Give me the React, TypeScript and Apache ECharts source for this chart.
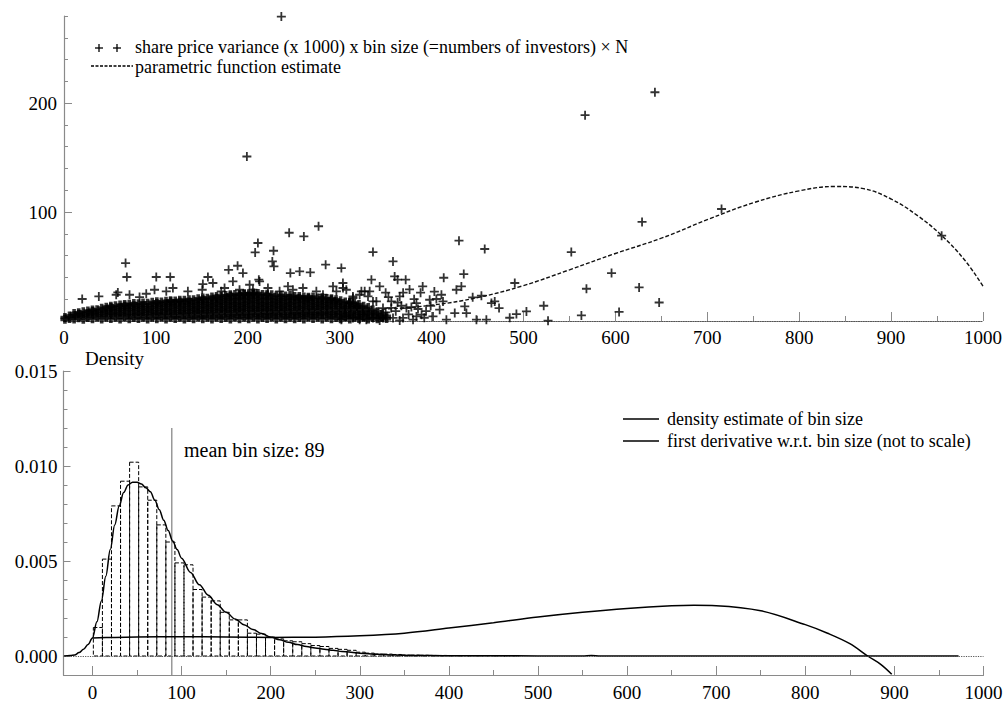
import React, { useEffect, useRef } from "react";
import * as echarts from "echarts";

const FONT = "'Liberation Serif', 'Times New Roman', 'DejaVu Serif', serif";

// ---------- top panel data ----------
// dense cloud near the origin: [x, [y values]]
const blobColumns: [number, number[]][] = [
  [1, [1.5, 3.2]],
  [6, [2.4, 4.6]],
  [11, [1.8, 4.9, 6.8]],
  [16, [2.9, 6.2, 7.6]],
  [21, [1.7, 5.3, 8.4]],
  [26, [3.3, 6.8, 9.2]],
  [31, [2.1, 5.6, 8.7, 10.1]],
  [36, [3.6, 7.1, 10.4]],
  [41, [1.9, 5.4, 9.0, 11.8]],
  [46, [3.4, 7.2, 10.6, 12.7]],
  [51, [2.2, 5.7, 9.1, 12.3, 13.6]],
  [56, [3.5, 6.9, 10.3, 13.9]],
  [61, [1.8, 5.5, 8.8, 12.4, 14.6]],
  [66, [3.6, 7.1, 10.6, 13.8, 15.2]],
  [71, [2.0, 5.4, 9.2, 12.6, 15.4]],
  [76, [3.3, 6.9, 10.4, 14.1, 16.0]],
  [81, [2.2, 5.6, 8.9, 12.5, 15.8]],
  [86, [3.5, 7.0, 10.7, 14.2, 16.6]],
  [91, [1.9, 5.3, 9.1, 12.4, 16.3]],
  [96, [3.4, 7.2, 10.5, 13.9, 17.1]],
  [101, [2.1, 5.6, 8.8, 12.6, 16.0, 17.6]],
  [106, [3.6, 6.8, 10.6, 14.2, 17.4]],
  [111, [1.8, 5.5, 9.2, 12.3, 15.9, 18.1]],
  [116, [3.4, 7.1, 10.4, 14.0, 17.6, 18.6]],
  [121, [2.2, 5.4, 9.0, 12.7, 16.1, 18.4]],
  [126, [3.5, 7.0, 10.6, 13.8, 17.5, 19.1]],
  [131, [1.9, 5.7, 8.9, 12.5, 16.2, 19.0]],
  [136, [3.3, 6.9, 10.5, 14.1, 17.4, 19.6]],
  [141, [2.0, 5.5, 9.1, 12.4, 15.9, 19.4]],
  [146, [3.6, 7.2, 10.4, 13.9, 17.6, 20.4]],
  [151, [2.1, 5.4, 8.8, 12.6, 16.1, 19.5, 21.1]],
  [156, [3.4, 7.0, 10.7, 14.0, 17.5, 21.0]],
  [161, [1.8, 5.6, 9.0, 12.5, 15.8, 19.6, 22.0]],
  [166, [3.5, 6.9, 10.5, 14.2, 17.4, 20.9, 22.6]],
  [171, [2.2, 5.5, 9.2, 12.4, 16.0, 19.4, 23.0]],
  [176, [3.3, 7.1, 10.4, 13.9, 17.6, 21.1, 23.4]],
  [181, [1.9, 5.4, 8.9, 12.6, 16.1, 19.5, 22.9, 24.1]],
  [186, [3.6, 7.0, 10.6, 14.1, 17.5, 20.8, 24.4]],
  [191, [2.0, 5.7, 9.1, 12.3, 15.9, 19.6, 23.1, 24.6]],
  [196, [3.4, 6.8, 10.5, 14.0, 17.4, 21.0, 24.5, 25.1]],
  [201, [2.1, 5.5, 9.0, 12.6, 16.2, 19.4, 22.9, 25.0]],
  [206, [3.5, 7.1, 10.4, 13.8, 17.6, 21.1, 24.6, 25.6]],
  [211, [1.8, 5.4, 8.8, 12.5, 16.0, 19.5, 23.0, 25.2]],
  [216, [3.3, 6.9, 10.6, 14.1, 17.5, 20.9, 24.4]],
  [221, [2.2, 5.6, 9.1, 12.4, 15.9, 19.6, 23.1, 24.5]],
  [226, [3.6, 7.0, 10.5, 14.0, 17.4, 21.0, 24.0]],
  [231, [1.9, 5.5, 8.9, 12.6, 16.1, 19.4, 23.0]],
  [236, [3.4, 7.2, 10.4, 13.9, 17.6, 21.1, 23.6]],
  [241, [2.0, 5.3, 9.2, 12.5, 15.8, 19.5, 22.9]],
  [246, [3.5, 6.9, 10.6, 14.2, 17.5, 20.9, 23.4]],
  [251, [2.1, 5.6, 9.0, 12.4, 16.0, 19.6, 22.6]],
  [256, [3.3, 7.0, 10.5, 13.8, 17.4, 21.0, 22.4]],
  [261, [1.8, 5.4, 8.8, 12.6, 16.2, 19.4, 22.1]],
  [266, [3.6, 7.1, 10.4, 14.1, 17.6, 20.8, 21.9]],
  [271, [2.2, 5.5, 9.1, 12.3, 15.9, 19.5, 22.0]],
  [276, [3.4, 6.8, 10.6, 14.0, 17.5, 21.1]],
  [281, [1.9, 5.7, 9.0, 12.5, 16.1, 19.6, 21.4]],
  [286, [3.5, 7.0, 10.5, 13.9, 17.4, 20.6]],
  [291, [2.0, 5.4, 8.9, 12.6, 15.8, 19.4, 20.4]],
  [296, [3.3, 7.1, 10.4, 14.2, 17.6, 19.5]],
  [301, [2.1, 5.6, 9.2, 12.4, 16.0, 18.6]],
  [306, [3.6, 6.9, 10.6, 13.8, 17.4]],
  [311, [1.8, 5.5, 8.8, 12.5, 16.1, 17.0]],
  [316, [3.4, 7.0, 10.5, 14.1, 16.4]],
  [321, [2.2, 5.4, 9.1, 12.3, 15.1]],
  [326, [3.5, 7.2, 10.4, 13.6]],
  [331, [1.9, 5.6, 8.9, 12.4]],
  [336, [3.3, 6.9, 10.1]],
  [341, [2.0, 5.5, 8.4]],
  [346, [3.1, 6.1]],
  [351, [2.2, 4.4]],
];

// scattered points outside the dense cloud
const sparsePoints: [number, number][] = [
  [236.5, 279.5], [199, 151], [567, 189], [643, 210], [629, 91], [715.5, 102.8], [955, 78.3], [552, 63.3],
  [211, 71.6], [208, 63], [228, 64.5], [245, 81], [261, 77.6], [277, 87],
  [67, 53.2], [68.4, 40.4], [19.8, 20.2], [37.9, 22.6], [58.6, 26.2], [100.4, 40.4], [115.6, 40.4],
  [156.6, 40.4], [151.1, 33.9], [179.1, 47], [188.9, 50.7], [194.7, 44], [183.8, 36.3], [226.7, 54.7],
  [228.4, 50.1], [246.3, 44], [256.4, 45.5], [268, 44.6], [284.7, 51.7], [301.8, 48.6], [303.5, 34.9],
  [336.2, 63.3], [334.5, 37.9], [212, 37.9],
  [56.8, 24.1], [71.3, 24.1], [82.2, 22], [89.5, 25], [98.5, 28.7], [111.3, 27.2], [118.5, 30.3],
  [134.8, 27.2], [150.4, 28.7], [162, 34.9], [171.1, 27.2], [174.7, 30.3], [191, 28.7], [202, 33.3],
  [205.6, 28.7], [212.8, 36.3], [221.9, 30.3], [234.6, 27.2], [243.7, 31.7], [249.1, 28.7], [260, 30.3],
  [274.6, 27.2], [281.8, 24.1], [292.7, 31.7], [296.4, 27.2], [307.2, 28.7], [314.4, 21.1], [323.6, 27.2],
  [330.8, 22.6], [336.2, 18],
  [303.6, 30.3], [314.4, 22.6], [321.7, 24.1], [327.2, 27.2], [332.6, 27.2], [343.5, 31.7], [339.9, 18],
  [347.1, 11.9], [356.2, 18], [365.3, 22.6], [367.1, 14], [372.6, 11.9], [378, 12.8], [383.5, 16.5],
  [385.2, 11], [397.9, 19.5], [405.2, 20.2], [410.7, 24.1], [412.4, 18], [408.8, 10.4], [389.1, 5.8],
  [383.5, 4.2], [368.9, 2.8], [358, 2.8], [347.1, 2.8], [336.2, 2.8], [329, 1.2], [321.7, 1.2],
  [314.4, 2.8], [307.2, 4.2], [401.5, 4.2], [416.1, 1.2], [425.2, 7.3], [436.1, 13.4], [437.9, 7.3],
  [448.8, 1.2], [459.6, 1.2], [365.3, 0.5], [343.5, 0.5], [379.8, 1.2], [325.3, 5.8], [318.1, 13.4],
  [310.8, 16.5], [305.4, 10.4], [301.8, 1.2],
  [350, 8], [353, 22], [361, 9], [369, 26], [375, 6], [381, 20], [388, 26], [394, 9], [399, 14],
  [403, 27], [350, 26], [356, 12], [363, 17], [376, 29], [392, 3],
  [358, 54.7], [359.8, 40.9], [363, 37.9], [371.8, 37.9], [390.3, 31.7], [413.2, 39.7], [429.8, 73.7],
  [435, 43.1], [432.4, 31.7], [427, 28.7], [457.8, 66.1], [444.7, 21.7], [454.2, 23.2], [465.1, 16.5],
  [468.7, 18], [473.4, 11.9], [490.5, 34.9], [485, 3], [492.3, 6.4], [503.2, 8.8], [522, 14],
  [526.7, 0.3], [563, 5.1], [568.5, 29.6], [595.8, 44], [604, 8.3], [625.8, 30.8], [647.6, 17],
];

const paramX = [0, 50, 100, 150, 200, 250, 300, 350, 400, 450, 500, 550, 600, 650, 700, 750, 800, 840, 870, 900, 930, 955, 980, 1000];
const paramY = [1.5, 3, 4.5, 6, 7.5, 8.8, 10, 11, 14.5, 21.5, 32.5, 47, 62, 76, 93, 108.5, 119.5, 123.5, 121.5, 112, 96, 78.5, 56, 32];

const topYLabelValues = [100, 200];

// ---------- bottom panel data (density values in units of 1e-3) ----------
const binStart = 1;
const binWidth = 10.17;
const histHeights = [1.5, 5.1, 7.9, 9.2, 10.2, 8.9, 8.2, 6.9, 6.0, 4.9, 4.8, 3.5, 3.1, 2.9, 2.3, 1.9, 1.9, 1.2, 1.15, 1.0,
  0.9, 0.8, 0.75, 0.65, 0.55, 0.5, 0.4, 0.35, 0.3, 0.2, 0.15, 0.1, 0.1, 0.08, 0.05, 0.05, 0.04, 0.03, 0.03, 0.02,
  0.02, 0.02, 0.01, 0.02, 0.01, 0.01, 0.01];

const densityX = [-32, -25, -20, -15, -10, -5, 0, 5, 10, 15, 20, 25, 30, 35, 40, 45, 50, 55, 60, 65, 70, 75, 80, 85, 90, 95, 100,
  110, 120, 130, 140, 150, 160, 170, 180, 190, 200, 210, 220, 230, 240, 250, 260, 270, 280, 290, 300,
  320, 340, 360, 380, 400, 450, 500, 550, 560, 570, 600, 700, 800, 900, 972];
const densityY = [0, 0.02, 0.05, 0.18, 0.35, 0.6, 0.95, 1.8, 2.9, 4.2, 5.6, 6.9, 7.9, 8.6, 9.0, 9.15, 9.15, 9.05, 8.85, 8.65, 8.2, 7.7, 7.15, 6.6, 6.05, 5.6, 5.15,
  4.4, 3.75, 3.2, 2.7, 2.3, 1.95, 1.65, 1.4, 1.18, 1.0, 0.85, 0.72, 0.6, 0.5, 0.42, 0.36, 0.3, 0.24, 0.2, 0.15,
  0.09, 0.05, 0.03, 0.02, 0.015, 0.01, 0.004, 0.002, 0.02, 0.002, 0, 0, 0, 0, 0];

const derivX = [0, 25, 50, 100, 150, 200, 250, 300, 350, 400, 450, 500, 550, 600, 650, 675, 700, 750, 800, 825, 850, 870, 885, 897];
const derivY = [0.95, 0.98, 1.0, 1.01, 1.0, 0.98, 0.99, 1.06, 1.2, 1.47, 1.75, 2.05, 2.3, 2.5, 2.64, 2.67, 2.65, 2.38, 1.65, 1.2, 0.65, 0.0, -0.45, -0.96];

const meanBinSize = 89;
const meanLineRange = [-0.001, 0.012];

const bottomXTickValues = [0, 100, 200, 300, 400, 500, 600, 700, 800, 900, 1000];
const bottomXMinorTicks = [50, 150, 250, 350, 450, 550, 650, 750, 850, 950];
const bottomYMajorTicks = [0, 0.005, 0.01, 0.015];

const legendTop = [
  "share price variance (x 1000) x bin size (=numbers of investors) \u00d7 N",
  "parametric function estimate",
];
const legendBottom = [
  "density estimate of bin size",
  "first derivative w.r.t. bin size (not to scale)",
];

const PLUS = "path://M4,0h2v4h4v2h-4v4h-2v-4h-4v-2h4z";
const PLUS_BOLD = "path://M3,0h4v3h3v4h-3v3h-4v-3h-3v-4h3z";
const AXIS_GRAY = "#8a8a8a";

function buildOption() {
  const blobData: number[][] = [];
  blobColumns.forEach(([x, ys]) => ys.forEach((y) => blobData.push([x, y])));

  const histData = histHeights.map((h, i) => [binStart + i * binWidth, binStart + (i + 1) * binWidth, h / 1000]);
  const densityData = densityX.map((x, i) => [x, densityY[i] / 1000]);
  const derivData = derivX.map((x, i) => [x, derivY[i] / 1000]);
  const paramData = paramX.map((x, i) => [x, paramY[i]]);

  const labelStyle = { fontFamily: FONT, fontSize: 19, color: "#000" };
  const plain = (v: number) => String(v);

  const textEl = (x: number, y: number, text: string, size: number) => ({
    type: "text",
    x,
    y,
    style: { text, font: `${size}px ${FONT}`, fill: "#000", align: "left", verticalAlign: "middle" },
  });
  const lineEl = (x1: number, y1: number, x2: number, y2: number, dash?: number[]) => ({
    type: "line",
    shape: { x1, y1, x2, y2 },
    style: { stroke: "#000", lineWidth: 1.3, lineDash: dash },
  });

  return {
    animation: false,
    backgroundColor: "#fff",
    textStyle: { fontFamily: FONT },
    grid: [
      { left: 64, top: 16, width: 919, height: 305 },
      { left: 63.5, top: 371, width: 920, height: 304 },
    ],
    xAxis: [
      {
        gridIndex: 0, type: "value", position: "bottom", min: 0, max: 1000, interval: 100,
        axisLine: { show: true, onZero: false, lineStyle: { color: "#555", type: "dotted", width: 1.2 } },
        axisTick: { show: true, inside: true, length: 9, lineStyle: { color: AXIS_GRAY } },
        axisLabel: { ...labelStyle, margin: 7, formatter: plain },
        splitLine: { show: false },
      },
      {
        gridIndex: 0, type: "value", position: "bottom", offset: 0, min: 0, max: 1000, interval: 50,
        axisLine: { show: false, onZero: false },
        axisTick: { show: true, inside: true, length: 5, lineStyle: { color: AXIS_GRAY } },
        axisLabel: { show: false },
        splitLine: { show: false },
      },
      {
        gridIndex: 1, type: "value", position: "bottom", min: -32.5, max: 1000,
        axisLine: { show: true, onZero: false, lineStyle: { color: AXIS_GRAY, width: 1.2 } },
        axisTick: { show: true, inside: true, length: 9, customValues: bottomXTickValues, lineStyle: { color: AXIS_GRAY } },
        axisLabel: { ...labelStyle, margin: 8, customValues: bottomXTickValues, formatter: plain },
        splitLine: { show: false },
      },
      {
        gridIndex: 1, type: "value", position: "bottom", offset: 0, min: -32.5, max: 1000,
        axisLine: { show: false, onZero: false },
        axisTick: { show: true, inside: true, length: 5, customValues: bottomXMinorTicks, lineStyle: { color: AXIS_GRAY } },
        axisLabel: { show: false },
        splitLine: { show: false },
      },
    ],
    yAxis: [
      {
        gridIndex: 0, type: "value", position: "left", min: 0, max: 280, interval: 20,
        axisLine: { show: true, onZero: false, lineStyle: { color: AXIS_GRAY, width: 1.2 } },
        axisTick: { show: true, inside: true, length: 4, lineStyle: { color: AXIS_GRAY } },
        axisLabel: {
          ...labelStyle, margin: 7,
          formatter: (v: number) => (topYLabelValues.indexOf(v) >= 0 ? String(v) : ""),
        },
        splitLine: { show: false },
      },
      {
        gridIndex: 0, type: "value", position: "left", offset: 0, min: 0, max: 280, interval: 100,
        axisLine: { show: false, onZero: false },
        axisTick: { show: true, inside: true, length: 8, customValues: topYLabelValues, lineStyle: { color: AXIS_GRAY } },
        axisLabel: { show: false },
        splitLine: { show: false },
      },
      {
        gridIndex: 1, type: "value", position: "left", min: -0.001, max: 0.015, interval: 0.001,
        axisLine: { show: true, onZero: false, lineStyle: { color: AXIS_GRAY, width: 1.2 } },
        axisTick: { show: true, inside: true, length: 4, lineStyle: { color: AXIS_GRAY } },
        axisLabel: {
          ...labelStyle, margin: 6,
          formatter: (v: number) => {
            const k = Math.round(v * 1000);
            return k >= 0 && k % 5 === 0 ? (k / 1000).toFixed(3) : "";
          },
        },
        splitLine: { show: false },
      },
      {
        gridIndex: 1, type: "value", position: "left", offset: 0, min: -0.001, max: 0.015,
        axisLine: { show: false, onZero: false },
        axisTick: { show: true, inside: true, length: 7, customValues: bottomYMajorTicks, lineStyle: { color: AXIS_GRAY } },
        axisLabel: { show: false },
        splitLine: { show: false },
      },
    ],
    series: [
      {
        type: "scatter", xAxisIndex: 0, yAxisIndex: 0,
        symbol: PLUS_BOLD, symbolSize: 9,
        itemStyle: { color: "#000" },
        data: blobData, z: 3, silent: true,
      },
      {
        type: "scatter", xAxisIndex: 0, yAxisIndex: 0,
        symbol: PLUS, symbolSize: 9,
        itemStyle: { color: "#000" },
        data: sparsePoints, z: 3, silent: true,
      },
      {
        type: "line", xAxisIndex: 0, yAxisIndex: 0,
        data: paramData, smooth: 0.4, showSymbol: false, symbol: "none",
        lineStyle: { color: "#111", width: 1.4, type: [4, 2] }, z: 4, silent: true,
      },
      {
        type: "custom", xAxisIndex: 2, yAxisIndex: 2,
        encode: { x: [0, 1], y: 2 },
        data: histData, z: 1, silent: true,
        renderItem: (_params: any, api: any) => {
          const p0 = api.coord([api.value(0), api.value(2)]);
          const p1 = api.coord([api.value(1), 0]);
          return {
            type: "rect",
            shape: { x: p0[0], y: p0[1], width: p1[0] - p0[0], height: p1[1] - p0[1] },
            style: { fill: "none", stroke: "#000", lineWidth: 1, lineDash: [4, 2] },
          };
        },
      },
      {
        type: "line", xAxisIndex: 2, yAxisIndex: 2,
        data: [[meanBinSize, meanLineRange[0]], [meanBinSize, meanLineRange[1]]],
        symbol: "none", lineStyle: { color: "#999", width: 1.5 }, z: 2, silent: true,
      },
      {
        type: "line", xAxisIndex: 2, yAxisIndex: 2,
        data: densityData, smooth: 0.35, smoothMonotone: "x", symbol: "none",
        lineStyle: { color: "#000", width: 1.5 }, z: 4, silent: true,
        markLine: {
          silent: true, symbol: ["none", "none"], label: { show: false },
          lineStyle: { color: "#555", type: "dotted", width: 1.2 },
          data: [{ yAxis: 0 }],
        },
      },
      {
        type: "line", xAxisIndex: 2, yAxisIndex: 2,
        data: derivData, smooth: 0.35, symbol: "none",
        lineStyle: { color: "#000", width: 1.5 }, z: 4, silent: true,
      },
    ],
    graphic: [
      lineEl(95, 48, 103, 48), lineEl(99, 44, 99, 52),
      lineEl(113, 48, 121, 48), lineEl(117, 44, 117, 52),
      lineEl(91, 66, 133, 66, [3, 1.5]),
      textEl(135, 47, legendTop[0], 18),
      textEl(135, 67, legendTop[1], 18),
      lineEl(623, 419, 659, 419),
      lineEl(623, 441, 659, 441),
      textEl(667, 419, legendBottom[0], 18),
      textEl(667, 441, legendBottom[1], 18),
      textEl(85, 358, "Density", 19),
      textEl(184, 450, `mean bin size: ${meanBinSize}`, 20),
    ],
  };
}

export default function App() {
  const ref = useRef<HTMLDivElement>(null);
  useEffect(() => {
    if (!ref.current) return;
    const chart = echarts.init(ref.current, null, { renderer: "svg" });
    chart.setOption(buildOption() as any);
    return () => chart.dispose();
  }, []);
  return (
    <div
      ref={ref}
      style={{ position: "absolute", left: 0, top: 0, width: 1008, height: 704, background: "#fff" }}
    />
  );
}
